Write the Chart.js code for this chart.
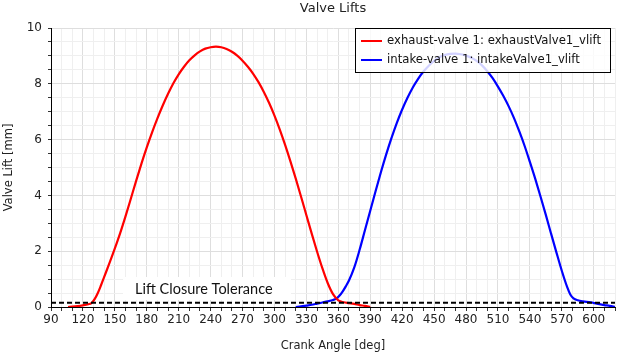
<!DOCTYPE html>
<html>
<head>
<meta charset="utf-8">
<script src="https://cdn.jsdelivr.net/npm/chart.js@4"></script>
<style>
  html, body { margin: 0; padding: 0; background: #fff; }
  #wrap { width: 617px; height: 355px; position: relative; }
</style>
</head>
<body>
<div id="wrap"><canvas id="c"></canvas></div>
<script>
const chartTitle = 'Valve Lifts';
const xAxisTitle = 'Crank Angle [deg]';
const yAxisTitle = 'Valve Lift [mm]';
const exhaustLabel = 'exhaust-valve 1: exhaustValve1_vlift';
const intakeLabel = 'intake-valve 1: intakeValve1_vlift';
const toleranceLabel = 'Lift Closure Tolerance';
const toleranceValue = 0.15;
const xMin = 90, xMax = 620;

const exhaustAngle = [106,110,115,120,125,128,131,134,137,140,145,150,155,160,165,170,175,180,185,190,195,200,205,210,215,220,225,230,235,240,245,250,255,260,265,270,275,280,285,290,295,300,305,310,315,320,325,330,335,340,345,350,355,360,365,370,375,380,385,390];
const exhaustLift  = [0,0.01,0.03,0.06,0.1,0.14,0.28,0.5,0.78,1.08,1.58,2.1,2.65,3.25,3.88,4.52,5.14,5.72,6.26,6.76,7.22,7.64,8.02,8.34,8.61,8.84,9.02,9.16,9.26,9.31,9.33,9.31,9.25,9.15,9.01,8.83,8.61,8.36,8.06,7.71,7.31,6.86,6.36,5.81,5.22,4.6,3.95,3.29,2.63,1.99,1.39,0.86,0.46,0.24,0.17,0.14,0.11,0.07,0.04,0];

const intakeAngle = [320,325,330,335,340,345,350,355,358,361,364,367,370,375,380,385,390,395,400,405,410,415,420,425,430,435,440,445,450,455,460,465,470,475,480,485,490,495,500,505,510,515,520,525,530,535,540,545,550,555,560,565,570,575,578,581,585,590,597,603,610,615,620.5];
const intakeLift  = [0,0.02,0.05,0.08,0.12,0.16,0.2,0.25,0.3,0.4,0.55,0.74,0.95,1.42,2.05,2.75,3.45,4.15,4.83,5.47,6.06,6.6,7.08,7.5,7.87,8.18,8.44,8.65,8.82,8.95,9.03,9.07,9.08,9.06,9.01,8.93,8.82,8.66,8.45,8.2,7.9,7.57,7.2,6.78,6.3,5.78,5.2,4.6,3.96,3.3,2.62,1.95,1.3,0.72,0.45,0.31,0.24,0.2,0.17,0.12,0.07,0.04,0];

const FONT = 'DejaVu Sans';
const MAJOR_GRID = '#dedede';
const MINOR_GRID = '#efefef';

const toPts = (xs, ys) => xs.map((x, i) => ({ x: x, y: ys[i] }));

const titlePlugin = {
  id: 'customTitle',
  afterDraw(chart) {
    const ctx = chart.ctx, a = chart.chartArea;
    ctx.save();
    ctx.font = '13px "' + FONT + '"';
    ctx.fillStyle = '#222';
    ctx.textAlign = 'center';
    ctx.textBaseline = 'middle';
    ctx.fillText(chartTitle, (a.left + a.right) / 2, 9);
    ctx.restore();
  }
};

const tolLabelPlugin = {
  id: 'tolLabel',
  beforeDatasetsDraw(chart) {
    const ctx = chart.ctx, a = chart.chartArea;
    ctx.save();
    ctx.fillStyle = '#fff';
    ctx.fillRect(a.left + 72, a.bottom - 30, 168, 23);
    ctx.font = '14.5px Lato';
    ctx.fillStyle = '#111';
    ctx.textAlign = 'left';
    ctx.textBaseline = 'middle';
    ctx.fillText(toleranceLabel, a.left + 84, a.bottom - 18);
    ctx.restore();
  }
};

const legendPlugin = {
  id: 'boxLegend',
  afterDraw(chart) {
    const ctx = chart.ctx, a = chart.chartArea;
    const x0 = a.right - 260, y0 = a.top, w = 255, h = 44;
    ctx.save();
    ctx.fillStyle = 'rgba(255,255,255,0.82)';
    ctx.fillRect(x0, y0, w, h);
    ctx.strokeStyle = '#000';
    ctx.lineWidth = 1;
    ctx.strokeRect(x0 + 0.5, y0 + 0.5, w, h);
    ctx.font = '11.7px "' + FONT + '"';
    ctx.textBaseline = 'middle';
    ctx.textAlign = 'left';
    const items = chart.data.datasets.filter(d => d.inLegend);
    items.forEach((d, i) => {
      const yy = y0 + 13 + i * 19;
      ctx.strokeStyle = d.borderColor;
      ctx.lineWidth = 2;
      ctx.beginPath();
      ctx.moveTo(x0 + 6, yy);
      ctx.lineTo(x0 + 27, yy);
      ctx.stroke();
      ctx.fillStyle = '#111';
      ctx.fillText(d.label, x0 + 32, yy);
    });
    ctx.restore();
  }
};

new Chart(document.getElementById('c'), {
  type: 'line',
  data: {
    datasets: [
      { label: toleranceLabel, data: [{ x: xMin, y: toleranceValue }, { x: xMax, y: toleranceValue }],
        borderColor: '#000', borderWidth: 2, borderDash: [5, 3], pointRadius: 0, order: 0, inLegend: false },
      { label: exhaustLabel, data: toPts(exhaustAngle, exhaustLift), borderColor: '#ff0000', borderWidth: 2.2,
        pointRadius: 0, cubicInterpolationMode: 'monotone', order: 1, inLegend: true },
      { label: intakeLabel, data: toPts(intakeAngle, intakeLift), borderColor: '#0000ff', borderWidth: 2.2,
        pointRadius: 0, cubicInterpolationMode: 'monotone', order: 2, inLegend: true }
    ]
  },
  options: {
    responsive: true,
    maintainAspectRatio: false,
    animation: false,
    layout: { padding: { top: 28, right: 2, left: 0, bottom: 0 } },
    plugins: { legend: { display: false }, title: { display: false }, tooltip: { enabled: false } },
    scales: {
      x: {
        type: 'linear', min: xMin, max: xMax,
        afterFit(s) { s.height = 48; },
        ticks: {
          stepSize: 10, autoSkip: false, maxRotation: 0, padding: 2,
          font: { family: FONT, size: 12 }, color: '#222',
          callback: v => ((v - 90) % 30 === 0 ? String(v) : '')
        },
        grid: {
          color: c => (c.tick && (c.tick.value - 90) % 30 === 0 ? MAJOR_GRID : MINOR_GRID),
          tickColor: '#333', tickLength: 4, lineWidth: 1
        },
        border: { display: true, color: '#000', width: 1 },
        title: { display: true, text: xAxisTitle, font: { family: FONT, size: 11.5 }, color: '#222', padding: { top: 0, bottom: 2 } }
      },
      y: {
        min: 0, max: 10,
        afterFit(s) { s.width = 51; },
        ticks: {
          stepSize: 0.5, autoSkip: false, padding: 6,
          font: { family: FONT, size: 12 }, color: '#222',
          callback: v => (Math.abs(v % 2) < 1e-9 ? String(v) : '')
        },
        grid: {
          color: c => (c.tick && Math.abs(c.tick.value % 2) < 1e-9 ? MAJOR_GRID : MINOR_GRID),
          tickColor: '#333', tickLength: 3, lineWidth: 1
        },
        border: { display: true, color: '#000', width: 1 },
        title: { display: true, text: yAxisTitle, font: { family: FONT, size: 11.5 }, color: '#222', padding: { top: 2, bottom: 0 } }
      }
    }
  },
  plugins: [titlePlugin, tolLabelPlugin, legendPlugin]
});
</script>
</body>
</html>
